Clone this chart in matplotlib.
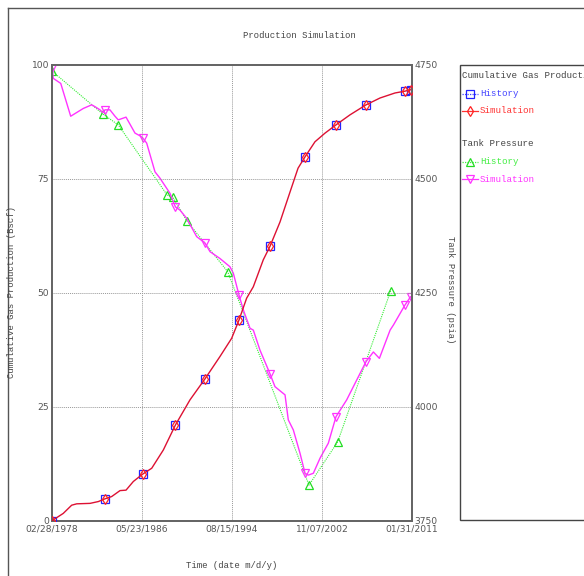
import matplotlib
matplotlib.use("Agg")
import matplotlib.pyplot as plt
from matplotlib.lines import Line2D
from matplotlib.patches import Rectangle

# ---------------- data ----------------
tick_years = [1978.161, 1986.391, 1994.622, 2002.852, 2011.082]
tick_labels = ["02/28/1978", "05/23/1986", "08/15/1994", "11/07/2002", "01/31/2011"]

gas_hist_year = [1978.16, 1983.01, 1986.44, 1989.45, 1992.15, 1995.26, 1998.10,
                 2001.30, 2004.13, 2006.88, 2010.44, 2010.95]
gas_hist_val = [0.0, 4.8, 10.2, 21.0, 31.1, 44.0, 60.2, 79.8, 86.8, 91.2, 94.2, 94.5]

gas_sim_year = [1978.16, 1978.74, 1979.19, 1979.96, 1980.42, 1981.64, 1982.40, 1983.01,
                1983.62, 1984.38, 1984.93, 1985.60, 1986.44, 1987.28, 1988.34, 1989.45,
                1990.78, 1992.15, 1993.52, 1994.59, 1995.26, 1995.96, 1996.57, 1997.48,
                1998.10, 1999.01, 1999.93, 2000.66, 2001.30, 2002.21, 2003.13, 2004.13,
                2005.41, 2006.88, 2008.16, 2009.53, 2010.44, 2010.95]
gas_sim_val = [0.0, 0.9, 1.6, 3.4, 3.7, 3.8, 4.2, 4.8,
               5.3, 6.6, 6.7, 8.6, 10.2, 11.5, 15.5, 21.0,
               26.5, 31.1, 36.0, 40.0, 44.0, 48.8, 51.3, 57.2,
               60.2, 65.5, 72.1, 77.3, 79.8, 83.1, 85.0, 86.8,
               89.0, 91.2, 92.7, 93.8, 94.2, 94.5]

pres_hist_year = [1978.16, 1982.80, 1984.22, 1988.70, 1989.20, 1990.48, 1994.23,
                  2001.66, 2004.29, 2009.13]
pres_hist_psi = [4736, 4642, 4618, 4464, 4460, 4408, 4296, 3828, 3923, 4254]

pres_sim_year = [1978.16, 1978.28, 1978.96, 1979.87, 1981.02, 1981.79, 1982.09, 1982.55,
                 1982.80, 1983.01, 1983.46, 1983.92, 1984.22, 1984.93, 1985.75, 1986.21,
                 1986.44, 1986.82, 1987.58, 1988.04, 1988.34, 1988.95, 1989.45, 1989.87,
                 1990.48, 1991.39, 1992.15, 1992.61, 1993.52, 1994.43, 1994.74, 1995.26,
                 1995.66, 1996.27, 1996.57, 1997.18, 1998.10, 1998.55, 1999.16, 1999.47,
                 1999.77, 2000.23, 2000.84, 2001.30, 2001.60, 2002.06, 2002.67, 2003.43,
                 2004.13, 2005.11, 2006.88, 2007.55, 2008.10, 2009.08, 2009.38, 2010.44,
                 2010.95]
pres_sim_psi = [4742, 4720, 4709, 4637, 4654, 4662, 4658, 4651,
                4645, 4651, 4651, 4637, 4629, 4635, 4600, 4594,
                4590, 4578, 4515, 4501, 4490, 4468, 4438, 4431,
                4413, 4373, 4359, 4340, 4325, 4307, 4293, 4245,
                4212, 4172, 4168, 4124, 4072, 4044, 4032, 4026,
                3971, 3949, 3898, 3854, 3850, 3854, 3887, 3920,
                3978, 4015, 4099, 4120, 4106, 4168, 4179, 4223,
                4241]
# simulation markers are drawn at the history report dates
pres_sim_marker_year = gas_hist_year

# ---------------- figure ----------------
W, H = 584, 576
fig = plt.figure(figsize=(W / 100, H / 100), dpi=100)
fig.patch.set_facecolor("white")

mono = "Liberation Mono"
sans = "DejaVu Sans"
txt_col = "#444444"
tick_col = "#555555"
fs = 6.4

# outer frame lines
fig.add_artist(Line2D([7.5 / W, 7.5 / W], [0, 1 - 7.5 / H], transform=fig.transFigure,
                      color="#555555", lw=1.0))
fig.add_artist(Line2D([7.5 / W, 1], [1 - 7.5 / H, 1 - 7.5 / H], transform=fig.transFigure,
                      color="#555555", lw=1.0))

left, right, top, bottom = 52, 412, 64.7, 520.7
ax = fig.add_axes([left / W, 1 - bottom / H, (right - left) / W, (bottom - top) / H])
ax2 = ax.twinx()

ax.set_xlim(tick_years[0], tick_years[-1])
ax.set_ylim(0, 100)
ax2.set_ylim(3750, 4750)

for a in (ax, ax2):
    for s in a.spines.values():
        s.set_color("#666666")
        s.set_linewidth(1.4)

ax.set_xticks(tick_years)
ax.set_xticklabels(tick_labels)
ax.set_yticks([0, 25, 50, 75, 100])
ax.set_yticklabels(["0", "25", "50", "75", "100"])
ax2.set_yticks([3750, 4000, 4250, 4500, 4750])
ax2.set_yticklabels(["3750", "4000", "4250", "4500", "4750"])
for a in (ax, ax2):
    a.tick_params(length=0, pad=2, labelsize=6.6, labelcolor=tick_col)
    for lab in a.get_xticklabels() + a.get_yticklabels():
        lab.set_family(sans)
ax.tick_params(axis="x", pad=3)

ax.grid(True, color="#999999", linestyle=(0, (1, 1)), linewidth=0.7)
ax.set_axisbelow(True)

# pressure (right axis)
ax2.plot(pres_hist_year, pres_hist_psi, color="#33ee33", lw=0.8, linestyle=(0, (1, 1)),
         marker="^", markersize=5.5, markerfacecolor="none", markeredgecolor="#22dd22",
         markeredgewidth=0.9, zorder=3)
ax2.plot(pres_sim_year, pres_sim_psi, color="#ff33ff", lw=1.0, zorder=4)
marker_psi = [pres_sim_psi[pres_sim_year.index(y)] for y in pres_sim_marker_year]
ax2.plot(pres_sim_marker_year, marker_psi, linestyle="none", marker="v", markersize=6,
         markerfacecolor="none", markeredgecolor="#ff33ff", markeredgewidth=0.9, zorder=4)

# gas (left axis) on top
ax.set_zorder(ax2.get_zorder() + 1)
ax.patch.set_visible(False)
ax.plot(gas_hist_year, gas_hist_val, linestyle="none",
        marker="s", markersize=5.5, markerfacecolor="none", markeredgecolor="#2222ff",
        markeredgewidth=0.9, zorder=3)
ax.plot(gas_sim_year, gas_sim_val, color="#dd1133", lw=1.0, zorder=4)
ax.plot(gas_hist_year, gas_hist_val, linestyle="none", marker="d", markersize=5,
        markerfacecolor="none", markeredgecolor="#ff2222", markeredgewidth=0.9, zorder=5)

# titles
fig.text(299 / W, 1 - 35 / H, "Production Simulation", family=mono, fontsize=fs,
         color=txt_col, ha="center", va="center")
fig.text(232 / W, 1 - 565 / H, "Time (date m/d/y)", family=mono, fontsize=fs,
         color=txt_col, ha="center", va="center")
fig.text(12 / W, 1 - 292 / H, "Cumulative Gas Production (Bscf)", family=mono, fontsize=fs,
         color=txt_col, ha="center", va="center", rotation=90)
fig.text(451 / W, 1 - 290 / H, "Tank Pressure (psia)", family=mono, fontsize=fs,
         color=txt_col, ha="center", va="center", rotation=270)

# legend panel (drawn manually, clipped by figure edge as in the original)
fig.add_artist(Rectangle((460 / W, 1 - 520 / H), 200 / W, (520 - 64.5) / H,
                         transform=fig.transFigure, facecolor="white",
                         edgecolor="#444444", lw=1.0))

def fx(px):
    return px / W

def fy(py):
    return 1 - py / H

def legend_entry(y, label, color, ls, marker, mcolor):
    fig.add_artist(Line2D([fx(462), fx(478)], [fy(y), fy(y)], transform=fig.transFigure,
                          color=color, lw=0.9, linestyle=ls))
    fig.add_artist(Line2D([fx(470)], [fy(y)], transform=fig.transFigure, linestyle="none",
                          marker=marker, markersize=5.5, markerfacecolor="none",
                          markeredgecolor=mcolor, markeredgewidth=0.9))
    fig.text(fx(480), fy(y), label, family=mono, fontsize=fs + 0.2, color=color,
             ha="left", va="center")

fig.text(fx(462), fy(76), "Cumulative Gas Production", family=mono, fontsize=fs + 0.2,
         color=txt_col, ha="left", va="center")
legend_entry(93.5, "History", "#4444ff", (0, (1, 1)), "s", "#2222ff")
legend_entry(110.5, "Simulation", "#ff3333", "-", "d", "#ff2222")
fig.text(fx(462), fy(144), "Tank Pressure", family=mono, fontsize=fs + 0.2,
         color=txt_col, ha="left", va="center")
legend_entry(162, "History", "#44ee44", (0, (1, 1)), "^", "#22dd22")
legend_entry(179, "Simulation", "#ff33ff", "-", "v", "#ff33ff")

fig.savefig("out.png", dpi=100)
